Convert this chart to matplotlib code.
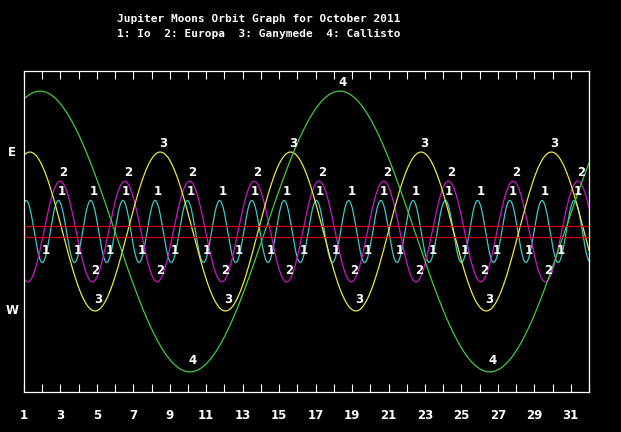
import numpy as np
import matplotlib
matplotlib.use("Agg")
import matplotlib.pyplot as plt
from matplotlib.patches import Rectangle

# ---- data ----
TITLE = "Jupiter Moons Orbit Graph for October 2011"
SUBTITLE = "1: Io  2: Europa  3: Ganymede  4: Callisto"
MOON_LABELS = ["1", "2", "3", "4"]
MOON_NAMES = ["Io", "Europa", "Ganymede", "Callisto"]
PERIODS = [1.769, 3.551, 7.155, 16.45]          # days (apparent, from chart)
AMPLITUDES = [5.85, 9.5, 15.0, 26.5]            # Jupiter radii
EAST_ELONG = [1.12, 2.98, 1.32, 18.33]          # day of an eastern elongation
COLORS = ["#40c8c8", "#c818c8", "#e8e840", "#40cc40"]
DAY_START, DAY_END = 1, 32
TICK_DAYS = list(range(1, 33))
TICK_LABEL_DAYS = list(range(1, 32, 2))
JUPITER_HALF = 1.04
Y_LIMIT = 30.3
LABEL_MIN_DAY = 1.95
LABEL_MAX_DAY = 31.6

W, H = 621, 432
fig = plt.figure(figsize=(W / 100, H / 100), dpi=100, facecolor="black")
ax = fig.add_axes([24 / W, (H - 392) / H, 565 / W, 321 / H], facecolor="black")

t = np.linspace(DAY_START, DAY_END, 3000)
for lab, P, A, t0, c in zip(MOON_LABELS, PERIODS, AMPLITUDES, EAST_ELONG, COLORS):
    y = A * np.cos(2 * np.pi * (t - t0) / P)
    ax.plot(t, y, color=c, lw=0.9, zorder=2)
    # label extrema
    k0 = int(np.floor((DAY_START - t0) / (P / 2))) - 1
    k1 = int(np.ceil((DAY_END - t0) / (P / 2))) + 1
    for k in range(k0, k1 + 1):
        te = t0 + k * P / 2
        if te < LABEL_MIN_DAY or te > LABEL_MAX_DAY:
            continue
        peak = (k % 2 == 0)
        ye = A if peak else -A
        dy = 1.5 if peak else 3.6
        ax.annotate(lab, (te, ye), xytext=(2.2, dy), textcoords="offset points",
                    ha="center", va="bottom", color="white", fontsize=8.5,
                    fontweight="bold", family="DejaVu Sans", zorder=4)

# Jupiter disk band
ax.add_patch(Rectangle((DAY_START + 0.05, -JUPITER_HALF), DAY_END - DAY_START,
                       2 * JUPITER_HALF, fill=False, edgecolor="#d00000",
                       lw=0.9, zorder=3))

ax.set_xlim(DAY_START, DAY_END)
ax.set_ylim(-Y_LIMIT, Y_LIMIT)
ax.set_yticks([])
ax.set_xticks(TICK_DAYS)
ax.set_xticklabels([str(d) if d in TICK_LABEL_DAYS else "" for d in TICK_DAYS])
ax.tick_params(axis="x", which="both", direction="in", length=5.8, width=0.8,
               color="white", top=True, bottom=True, labelbottom=True,
               labeltop=False, pad=12.5, labelcolor="white", labelsize=8.5)
for lbl in ax.get_xticklabels():
    lbl.set_fontweight("bold")
for s in ax.spines.values():
    s.set_color("white")
    s.set_linewidth(0.9)

# E / W markers
fig.text(12 / W, 1 - 152 / H, "E", color="white", fontsize=8.5, fontweight="bold",
         ha="center", va="center")
fig.text(12 / W, 1 - 310 / H, "W", color="white", fontsize=8.5, fontweight="bold",
         ha="center", va="center")

fig.text(117 / W, 1 - 19 / H, TITLE, color="white", family="DejaVu Sans Mono",
         fontweight="bold", fontsize=8, ha="left", va="center")
fig.text(117 / W, 1 - 34 / H, SUBTITLE, color="white", family="DejaVu Sans Mono",
         fontweight="bold", fontsize=8, ha="left", va="center")

fig.savefig("out.png", dpi=100, facecolor="black")
